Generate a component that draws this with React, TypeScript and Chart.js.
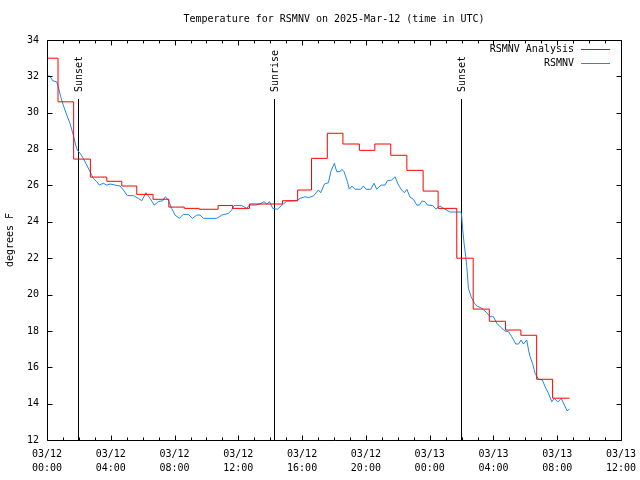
import { useEffect, useRef } from 'react';
import { Chart, registerables } from 'chart.js';

Chart.register(...registerables);

const TITLE = 'Temperature for RSMNV on 2025-Mar-12 (time in UTC)';
const Y_LABEL = 'degrees F';
const X_TICK_HOURS = [0, 4, 8, 12, 16, 20, 24, 28, 32, 36];
const X_TICK_DATES = ['03/12', '03/12', '03/12', '03/12', '03/12', '03/12', '03/13', '03/13', '03/13', '03/13'];
const X_TICK_TIMES = ['00:00', '04:00', '08:00', '12:00', '16:00', '20:00', '00:00', '04:00', '08:00', '12:00'];
const Y_MIN = 12;
const Y_MAX = 34;
const X_MIN = 0;
const X_MAX = 36;

const SUN_LABELS = ['Sunset', 'Sunrise', 'Sunset'];
const SUN_HOURS = [1.95, 14.24, 25.97];

const SERIES_NAMES = ['RSMNV Analysis', 'RSMNV'];
const SERIES_COLORS = ['#ff0000', '#1e88e5'];

// RSMNV Analysis (hourly analysis, step line): start hour of each level and its value
const analysisHours = [0, 0.69, 1.67, 2.72, 3.75, 4.69, 5.63, 6.65, 7.64, 8.61, 9.54, 10.73, 11.64, 12.7, 14.77, 15.72, 16.59, 17.58, 18.56, 19.59, 20.56, 21.56, 22.57, 23.59, 24.53, 25.7, 26.73, 27.74, 28.76, 29.72, 30.71, 31.71, 32.77];
const analysisTemps = [33.0, 30.6, 27.45, 26.46, 26.23, 25.97, 25.51, 25.24, 24.81, 24.74, 24.69, 24.9, 24.74, 24.98, 25.16, 25.75, 27.49, 28.87, 28.28, 27.93, 28.28, 27.66, 26.83, 25.69, 24.74, 22.0, 19.2, 18.53, 18.05, 17.76, 15.34, 14.3, 14.3];

// RSMNV observations
const obsHours = [0, 0.19, 0.36, 0.61, 0.71, 0.86, 1.02, 1.24, 1.44, 1.65, 1.8, 1.9, 2.07, 2.28, 2.49, 2.7, 2.9, 3.12, 3.28, 3.53, 3.75, 3.95, 4.27, 4.58, 4.79, 5.04, 5.42, 5.73, 5.94, 6.21, 6.46, 6.73, 6.98, 7.26, 7.42, 7.61, 7.82, 8.03, 8.3, 8.55, 8.86, 9.12, 9.39, 9.6, 9.81, 10.23, 10.65, 10.96, 11.37, 11.59, 11.73, 12.21, 12.53, 12.69, 13.05, 13.36, 13.61, 13.78, 13.95, 14.16, 14.45, 14.82, 15.04, 15.66, 15.87, 16.19, 16.39, 16.71, 17.02, 17.17, 17.4, 17.65, 17.8, 18.02, 18.17, 18.38, 18.49, 18.63, 18.84, 18.96, 19.12, 19.32, 19.68, 19.84, 20.01, 20.31, 20.51, 20.68, 20.95, 21.2, 21.35, 21.62, 21.83, 22.04, 22.25, 22.42, 22.57, 22.77, 22.98, 23.19, 23.36, 23.51, 23.71, 23.86, 24.2, 24.4, 24.65, 24.86, 25.28, 25.95, 26.0, 26.07, 26.16, 26.26, 26.33, 26.43, 26.6, 26.81, 26.96, 27.27, 27.58, 27.79, 28.0, 28.21, 28.42, 28.73, 28.94, 29.15, 29.4, 29.57, 29.74, 29.88, 30.09, 30.2, 30.3, 30.45, 30.61, 30.82, 31.07, 31.24, 31.45, 31.66, 31.81, 32.04, 32.25, 32.45, 32.62, 32.77];
const obsTemps = [32.04, 32.0, 31.76, 31.7, 31.43, 30.88, 30.42, 29.87, 29.42, 28.77, 28.22, 27.95, 27.77, 27.49, 27.12, 26.76, 26.39, 26.21, 26.02, 26.12, 26.02, 26.08, 26.02, 25.97, 25.75, 25.44, 25.44, 25.29, 25.16, 25.6, 25.29, 24.92, 25.11, 25.16, 25.38, 25.2, 24.74, 24.37, 24.19, 24.41, 24.41, 24.19, 24.37, 24.37, 24.19, 24.19, 24.19, 24.37, 24.46, 24.65, 24.9, 24.9, 24.74, 24.92, 24.92, 24.98, 25.11, 24.98, 25.11, 24.74, 24.69, 24.98, 25.14, 25.16, 25.29, 25.38, 25.33, 25.42, 25.75, 25.6, 26.08, 26.15, 26.76, 27.22, 26.76, 26.76, 26.89, 26.76, 26.21, 25.79, 25.97, 25.79, 25.79, 25.97, 25.79, 25.79, 26.12, 25.79, 26.02, 26.02, 26.26, 26.3, 26.48, 26.02, 25.75, 25.6, 25.79, 25.35, 25.24, 24.92, 24.92, 25.14, 25.11, 24.92, 24.89, 24.7, 24.87, 24.74, 24.54, 24.54, 24.4, 23.6, 22.8, 22.1, 21.53, 20.34, 19.88, 19.52, 19.37, 19.24, 19.0, 18.78, 18.78, 18.42, 18.23, 17.99, 17.96, 17.68, 17.28, 17.28, 17.5, 17.28, 17.5, 16.95, 16.58, 16.22, 15.67, 15.35, 15.3, 14.93, 14.57, 14.1, 14.29, 14.09, 14.29, 13.92, 13.61, 13.7];

const FONT_FAMILY = '"DejaVu Sans Mono", "Liberation Mono", monospace';
const SUN_LINE_TOP = 30.75;

const gnuplotFrame = {
  id: 'gnuplotFrame',
  beforeDatasetsDraw(chart: any) {
    const { ctx, chartArea, scales } = chart;
    const xs = scales.x;
    const ys = scales.y;
    ctx.save();
    ctx.strokeStyle = '#000';
    ctx.lineWidth = 1;
    ctx.fillStyle = '#000';
    ctx.font = `10px ${FONT_FAMILY}`;
    const yTop = Math.round(ys.getPixelForValue(SUN_LINE_TOP));
    SUN_HOURS.forEach((h, i) => {
      const px = Math.round(xs.getPixelForValue(h)) + 0.5;
      ctx.beginPath();
      ctx.moveTo(px, yTop);
      ctx.lineTo(px, chartArea.bottom);
      ctx.stroke();
      ctx.save();
      ctx.translate(px + 1, yTop - 7);
      ctx.rotate(-Math.PI / 2);
      ctx.textAlign = 'left';
      ctx.textBaseline = 'middle';
      ctx.fillText(SUN_LABELS[i], 0, 0);
      ctx.restore();
    });
    ctx.restore();
  },
  afterDraw(chart: any) {
    const { ctx, chartArea, scales } = chart;
    const xs = scales.x;
    const ys = scales.y;
    const L = Math.round(chartArea.left) + 0.5;
    const R = Math.round(chartArea.right) + 0.5;
    const T = Math.round(chartArea.top) + 0.5;
    const B = Math.round(chartArea.bottom) + 0.5;
    ctx.save();
    ctx.strokeStyle = '#000';
    ctx.lineWidth = 1;
    ctx.beginPath();
    ctx.rect(L, T, R - L, B - T);
    ctx.stroke();
    ctx.beginPath();
    for (let v = Y_MIN; v <= Y_MAX; v += 2) {
      const py = Math.round(ys.getPixelForValue(v)) + 0.5;
      ctx.moveTo(L, py); ctx.lineTo(L + 5, py);
      ctx.moveTo(R, py); ctx.lineTo(R - 5, py);
    }
    for (let h = X_MIN; h <= X_MAX; h += 1) {
      const px = Math.round(xs.getPixelForValue(h)) + 0.5;
      const len = h % 4 === 0 ? 5 : 3;
      ctx.moveTo(px, B); ctx.lineTo(px, B - len);
      ctx.moveTo(px, T); ctx.lineTo(px, T + len);
    }
    ctx.stroke();

    // legend inside top right
    ctx.font = `10px ${FONT_FAMILY}`;
    ctx.fillStyle = '#000';
    ctx.textAlign = 'right';
    ctx.textBaseline = 'middle';
    SERIES_NAMES.forEach((name, i) => {
      const y = Math.round(chartArea.top) + 9 + i * 14;
      ctx.fillText(name, chartArea.right - 47, y);
      ctx.strokeStyle = SERIES_COLORS[i];
      ctx.beginPath();
      ctx.moveTo(chartArea.right - 40, y + 0.5);
      ctx.lineTo(chartArea.right - 11, y + 0.5);
      ctx.stroke();
    });
    ctx.restore();
  },
};

export default function App() {
  const canvasRef = useRef<HTMLCanvasElement | null>(null);

  useEffect(() => {
    if (!canvasRef.current) return;
    const font = { family: FONT_FAMILY, size: 10, lineHeight: 1.2 };
    const chart = new Chart(canvasRef.current, {
      type: 'line',
      data: {
        datasets: [
          {
            label: SERIES_NAMES[0],
            data: analysisHours.map((h, i) => ({ x: h, y: analysisTemps[i] })),
            borderColor: SERIES_COLORS[0],
            borderWidth: 1,
            pointRadius: 0,
            stepped: 'before',
            fill: false,
          },
          {
            label: SERIES_NAMES[1],
            data: obsHours.map((h, i) => ({ x: h, y: obsTemps[i] })),
            borderColor: SERIES_COLORS[1],
            borderWidth: 1,
            pointRadius: 0,
            tension: 0,
            fill: false,
          },
        ],
      },
      options: {
        animation: false,
        responsive: false,
        devicePixelRatio: 1,
        layout: { padding: { left: 0, right: 19, top: 0, bottom: 0 } },
        plugins: {
          legend: { display: false },
          tooltip: { enabled: false },
          title: {
            display: true,
            text: TITLE,
            fullSize: false,
            color: '#000',
            font: { ...font, weight: 'normal' },
            padding: { top: 13, bottom: 15 },
          },
        },
        scales: {
          x: {
            type: 'linear',
            min: X_MIN,
            max: X_MAX,
            grid: { display: false, drawTicks: false },
            border: { display: false },
            ticks: {
              stepSize: 4,
              autoSkip: false,
              maxRotation: 0,
              minRotation: 0,
              padding: 8,
              color: '#000',
              font: { family: FONT_FAMILY, size: 10, lineHeight: 1.35 },
              callback: (v: any) => {
                const i = X_TICK_HOURS.indexOf(Number(v));
                return i >= 0 ? [X_TICK_DATES[i], X_TICK_TIMES[i]] : '';
              },
            },
            afterFit: (s: any) => {
              s.height = 40;
              s.paddingLeft = 0;
              s.paddingRight = 0;
            },
          },
          y: {
            type: 'linear',
            min: Y_MIN,
            max: Y_MAX,
            grid: { display: false, drawTicks: false },
            border: { display: false },
            ticks: {
              stepSize: 2,
              padding: 8,
              color: '#000',
              font,
            },
            title: {
              display: true,
              text: Y_LABEL,
              color: '#000',
              font,
              padding: { top: 4, bottom: 0 },
            },
            afterFit: (s: any) => {
              s.width = 47;
              s.paddingTop = 0;
              s.paddingBottom = 0;
            },
          },
        },
      },
      plugins: [gnuplotFrame],
    });
    return () => chart.destroy();
  }, []);

  return (
    <div style={{ position: 'absolute', left: 0, top: 0, width: 640, height: 480, background: '#fff' }}>
      <canvas ref={canvasRef} width={640} height={480} style={{ display: 'block' }} />
    </div>
  );
}
